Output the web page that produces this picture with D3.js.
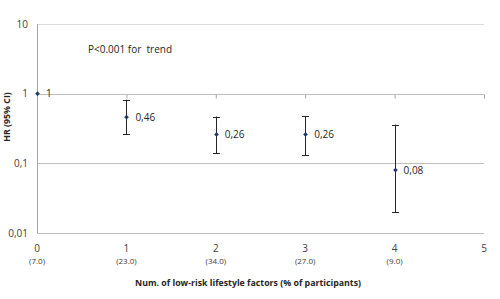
<!DOCTYPE html>
<html>
<head>
<meta charset="utf-8">
<script src="https://cdn.jsdelivr.net/npm/d3@7"></script>
<style>
  body { margin: 0; background: #fff; }
  svg { display: block; font-family: "Open Sans", sans-serif; }
</style>
</head>
<body>
<svg id="chart"></svg>
<script>
// number of low-risk factors, with % of participants
const factors = [0, 1, 2, 3, 4];
const participants = ["(7.0)", "(23.0)", "(34.0)", "(27.0)", "(9.0)"];
const hr = [1, 0.46, 0.26, 0.26, 0.08];
const ciLow = [null, 0.26, 0.14, 0.13, 0.02];
const ciHigh = [null, 0.82, 0.47, 0.48, 0.36];
const hrLabels = ["1", "0,46", "0,26", "0,26", "0,08"];
const yTicks = [0.01, 0.1, 1, 10];
const yTickLabels = ["0,01", "0,1", "1", "10"];
const xTicks = [0, 1, 2, 3, 4, 5];

const width = 500, height = 299;
const marginLeft = 37, marginRight = 16, marginTop = 24, marginBottom = 66;

const svg = d3.select("#chart")
    .attr("width", width)
    .attr("height", height);

const x = d3.scaleLinear([0, 5], [marginLeft, width - marginRight]);
const y = d3.scaleLog([0.01, 10], [height - marginBottom, marginTop]);

// horizontal gridlines
svg.append("g")
    .selectAll("line")
    .data(yTicks)
    .join("line")
    .attr("x1", marginLeft)
    .attr("x2", width - marginRight)
    .attr("y1", d => Math.round(y(d)) + 0.5)
    .attr("y2", d => Math.round(y(d)) + 0.5)
    .attr("stroke", d => d === 10 ? "#dcdcdc" : "#bfbfbf");

// y axis line
svg.append("line")
    .attr("x1", marginLeft + 0.5).attr("x2", marginLeft + 0.5)
    .attr("y1", y(10)).attr("y2", y(0.01))
    .attr("stroke", "#a6a6a6");

// x axis crosses at 1, small tick marks below it
svg.append("g")
    .attr("transform", `translate(0,${Math.round(y(1)) + 0.5})`)
    .call(d3.axisBottom(x).tickValues(xTicks).tickSize(4).tickFormat(""))
    .call(g => g.select(".domain").remove())
    .call(g => g.selectAll(".tick line").attr("stroke", "#a6a6a6"));

// y tick labels
svg.append("g")
    .attr("font-size", 10)
    .attr("fill", "#404040")
    .attr("text-anchor", "end")
    .selectAll("text")
    .data(yTicks)
    .join("text")
    .attr("x", marginLeft - 9)
    .attr("y", d => y(d))
    .attr("dy", "0.35em")
    .text((d, i) => yTickLabels[i]);

// x tick labels
const xl = svg.append("g").attr("text-anchor", "middle").attr("fill", "#404040");
xl.selectAll("text.num")
    .data(xTicks)
    .join("text")
    .attr("class", "num")
    .attr("x", d => x(d))
    .attr("y", 252)
    .attr("font-size", 10)
    .text(d => d);
xl.selectAll("text.pct")
    .data(participants)
    .join("text")
    .attr("class", "pct")
    .attr("x", (d, i) => x(factors[i]))
    .attr("y", 264)
    .attr("font-size", 8)
    .text(d => d);

// error bars
const eb = factors.map((f, i) => i).filter(i => ciLow[i] !== null);
const bars = svg.append("g").attr("stroke", "#262626").attr("stroke-width", 1);
bars.selectAll("line.v")
    .data(eb)
    .join("line")
    .attr("x1", i => Math.round(x(factors[i])) + 0.5)
    .attr("x2", i => Math.round(x(factors[i])) + 0.5)
    .attr("y1", i => y(ciHigh[i]))
    .attr("y2", i => y(ciLow[i]));
bars.selectAll("line.cap")
    .data(eb.flatMap(i => [[i, ciHigh[i]], [i, ciLow[i]]]))
    .join("line")
    .attr("x1", d => Math.round(x(factors[d[0]])) - 3)
    .attr("x2", d => Math.round(x(factors[d[0]])) + 4)
    .attr("y1", d => Math.round(y(d[1])) + 0.5)
    .attr("y2", d => Math.round(y(d[1])) + 0.5);

// diamond markers
svg.append("g")
    .attr("fill", "#1f3864")
    .selectAll("path")
    .data(factors)
    .join("path")
    .attr("transform", (d, i) => `translate(${Math.round(x(d)) + 0.5},${y(hr[i])})`)
    .attr("d", d3.symbol(d3.symbolDiamond2, 14));

// value labels
svg.append("g")
    .attr("font-size", 10)
    .attr("fill", "#262626")
    .selectAll("text")
    .data(factors)
    .join("text")
    .attr("x", d => x(d) + 9)
    .attr("y", (d, i) => y(hr[i]))
    .attr("dy", "0.35em")
    .text((d, i) => hrLabels[i]);

// trend annotation
svg.append("text")
    .attr("x", 88)
    .attr("y", 53)
    .attr("font-size", 10)
    .attr("fill", "#262626")
    .attr("xml:space", "preserve")
    .text("P<0.001 for  trend");

// axis titles
svg.append("text")
    .attr("x", 248)
    .attr("y", 286)
    .attr("text-anchor", "middle")
    .attr("font-size", 8.8)
    .attr("font-weight", "bold")
    .attr("fill", "#262626")
    .text("Num. of low-risk lifestyle factors (% of participants)");

svg.append("text")
    .attr("transform", "translate(10,117) rotate(-90)")
    .attr("text-anchor", "middle")
    .attr("font-size", 8.8)
    .attr("font-weight", "bold")
    .attr("fill", "#262626")
    .text("HR (95% CI)");
</script>
</body>
</html>
